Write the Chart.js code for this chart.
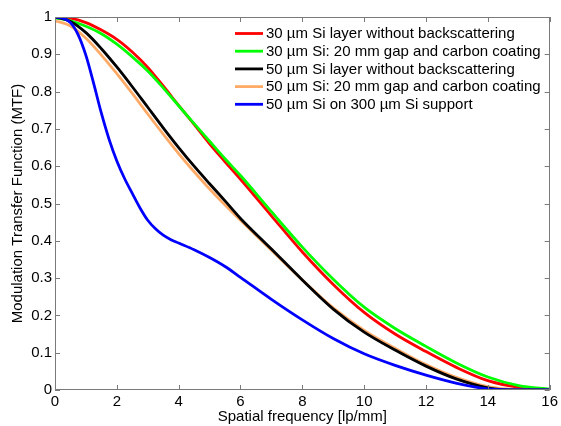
<!DOCTYPE html>
<html>
<head>
<meta charset="utf-8">
<script src="https://cdn.jsdelivr.net/npm/chart.js@4.4.1/dist/chart.umd.min.js"></script>
<style>
  html, body { margin: 0; padding: 0; background: #fff; }
</style>
</head>
<body>
<canvas id="mtfChart" width="561" height="426"></canvas>
<script>
'use strict';

// spatial frequency grid [lp/mm]
const freq = [0, 0.5, 1, 1.5, 2, 2.5, 3, 3.5, 4, 4.5, 5, 5.5, 6, 7, 8, 9, 10, 11, 12, 13, 14, 15, 16];
const si30Plain  = [1, 0.997, 0.985, 0.965, 0.94, 0.906, 0.865, 0.815, 0.763, 0.712, 0.66, 0.612, 0.565, 0.467, 0.37, 0.283, 0.208, 0.15, 0.103, 0.06, 0.025, 0.007, 0];
const si30Gap    = [0.998, 0.99, 0.975, 0.955, 0.927, 0.893, 0.855, 0.81, 0.762, 0.714, 0.667, 0.62, 0.575, 0.478, 0.383, 0.297, 0.222, 0.165, 0.117, 0.072, 0.035, 0.012, 0.002];
const si50Plain  = [1, 0.988, 0.958, 0.915, 0.866, 0.813, 0.758, 0.703, 0.65, 0.6, 0.553, 0.507, 0.46, 0.378, 0.295, 0.217, 0.155, 0.107, 0.064, 0.029, 0.006, 0, 0];
const si50Gap    = [0.99, 0.976, 0.943, 0.898, 0.848, 0.795, 0.74, 0.686, 0.634, 0.585, 0.539, 0.496, 0.455, 0.375, 0.295, 0.22, 0.16, 0.112, 0.068, 0.033, 0.009, 0.001, 0];
// blue curve needs a finer grid at low frequency
const freqSupport = [0, 0.25, 0.5, 0.75, 1, 1.25, 1.5, 1.75, 2, 2.25, 2.5, 2.75, 3, 3.25, 3.5, 3.75, 4, 4.5, 5, 5.5, 6, 7, 8, 9, 10, 11, 12, 13, 14, 15, 16];
const si50Support = [1, 0.997, 0.985, 0.952, 0.897, 0.822, 0.742, 0.672, 0.614, 0.567, 0.527, 0.488, 0.455, 0.432, 0.415, 0.403, 0.394, 0.376, 0.355, 0.331, 0.302, 0.243, 0.188, 0.138, 0.097, 0.066, 0.04, 0.018, 0.003, 0, 0];

const xTicks = [0, 2, 4, 6, 8, 10, 12, 14, 16];
const yTicks = [0, 0.1, 0.2, 0.3, 0.4, 0.5, 0.6, 0.7, 0.8, 0.9, 1];

const axisColor = '#7a7a7a';
const fontFamily = "'Liberation Sans', Arial, Helvetica, sans-serif";
Chart.defaults.font.family = fontFamily;
Chart.defaults.font.size = 15;
Chart.defaults.color = '#000';

const pts = (xs, ys) => xs.map((v, i) => ({ x: v, y: ys[i] }));

function series(label, xs, ys, color, order) {
  return {
    label: label,
    data: pts(xs, ys),
    borderColor: color,
    backgroundColor: color,
    borderWidth: 2.8,
    pointRadius: 0,
    cubicInterpolationMode: 'monotone',
    fill: false,
    order: order
  };
}

// inward ticks and full box like a MATLAB axes
const boxPlugin = {
  id: 'boxPlugin',
  afterDraw(chart) {
    const { ctx, chartArea: a, scales: { x, y } } = chart;
    ctx.save();
    ctx.strokeStyle = axisColor;
    ctx.lineWidth = 1;
    ctx.beginPath();
    xTicks.forEach(v => {
      const px = Math.round(x.getPixelForValue(v)) + 0.5;
      ctx.moveTo(px, a.bottom); ctx.lineTo(px, a.bottom - 5);
      ctx.moveTo(px, a.top); ctx.lineTo(px, a.top + 5);
    });
    yTicks.forEach(v => {
      const py = Math.round(y.getPixelForValue(v)) + 0.5;
      ctx.moveTo(a.left, py); ctx.lineTo(a.left + 5, py);
      ctx.moveTo(a.right, py); ctx.lineTo(a.right - 5, py);
    });
    ctx.stroke();
    ctx.strokeRect(Math.round(a.left) + 0.5, Math.round(a.top) + 0.5, Math.round(a.width) - 1, Math.round(a.height) - 1);
    ctx.restore();
  }
};

// legend inside the plot, top right, no frame
const legendPlugin = {
  id: 'insideLegend',
  afterDraw(chart) {
    const ctx = chart.ctx;
    const x0 = 235, x1 = 263, tx = 266, y0 = 33.5, dy = 17.7;
    ctx.save();
    ctx.font = '15px ' + fontFamily;
    ctx.textBaseline = 'middle';
    ctx.fillStyle = '#000';
    chart.data.datasets.forEach((ds, i) => {
      const yy = y0 + i * dy;
      ctx.strokeStyle = ds.borderColor;
      ctx.lineWidth = 2.8;
      ctx.beginPath();
      ctx.moveTo(x0, yy); ctx.lineTo(x1, yy);
      ctx.stroke();
      ctx.fillText(ds.label, tx, yy + 0.5);
    });
    ctx.restore();
  }
};

new Chart(document.getElementById('mtfChart'), {
  type: 'line',
  data: {
    datasets: [
      series('30 µm Si layer without backscattering', freq, si30Plain, '#ff0000', 5),
      series('30 µm Si: 20 mm gap and carbon coating', freq, si30Gap, '#00ff00', 4),
      series('50 µm Si layer without backscattering', freq, si50Plain, '#000000', 2),
      series('50 µm Si: 20 mm gap and carbon coating', freq, si50Gap, '#ffaa66', 3),
      series('50 µm Si on 300 µm Si support', freqSupport, si50Support, '#0000ff', 1)
    ]
  },
  options: {
    responsive: false,
    animation: false,
    layout: { padding: { top: 17, right: 9, left: 0, bottom: 0 } },
    plugins: { legend: { display: false }, tooltip: { enabled: false } },
    scales: {
      x: {
        type: 'linear', min: 0, max: 16,
        afterBuildTicks: s => { s.ticks = xTicks.map(v => ({ value: v })); },
        afterFit: s => { s.height = 36; },
        grid: { display: false, drawTicks: false },
        border: { display: false },
        ticks: { padding: 3, maxRotation: 0 },
        title: { display: true, text: 'Spatial frequency [lp/mm]', padding: { top: 0, bottom: 0 } }
      },
      y: {
        type: 'linear', min: 0, max: 1,
        afterBuildTicks: s => { s.ticks = yTicks.map(v => ({ value: v })); },
        afterFit: s => { s.width = 55; },
        grid: { display: false, drawTicks: false },
        border: { display: false },
        ticks: { padding: 3, callback: v => String(Math.round(v * 10) / 10) },
        title: { display: true, text: 'Modulation Transfer Function (MTF)', padding: { top: 9, bottom: 0 } }
      }
    }
  },
  plugins: [boxPlugin, legendPlugin]
});
</script>
</body>
</html>
